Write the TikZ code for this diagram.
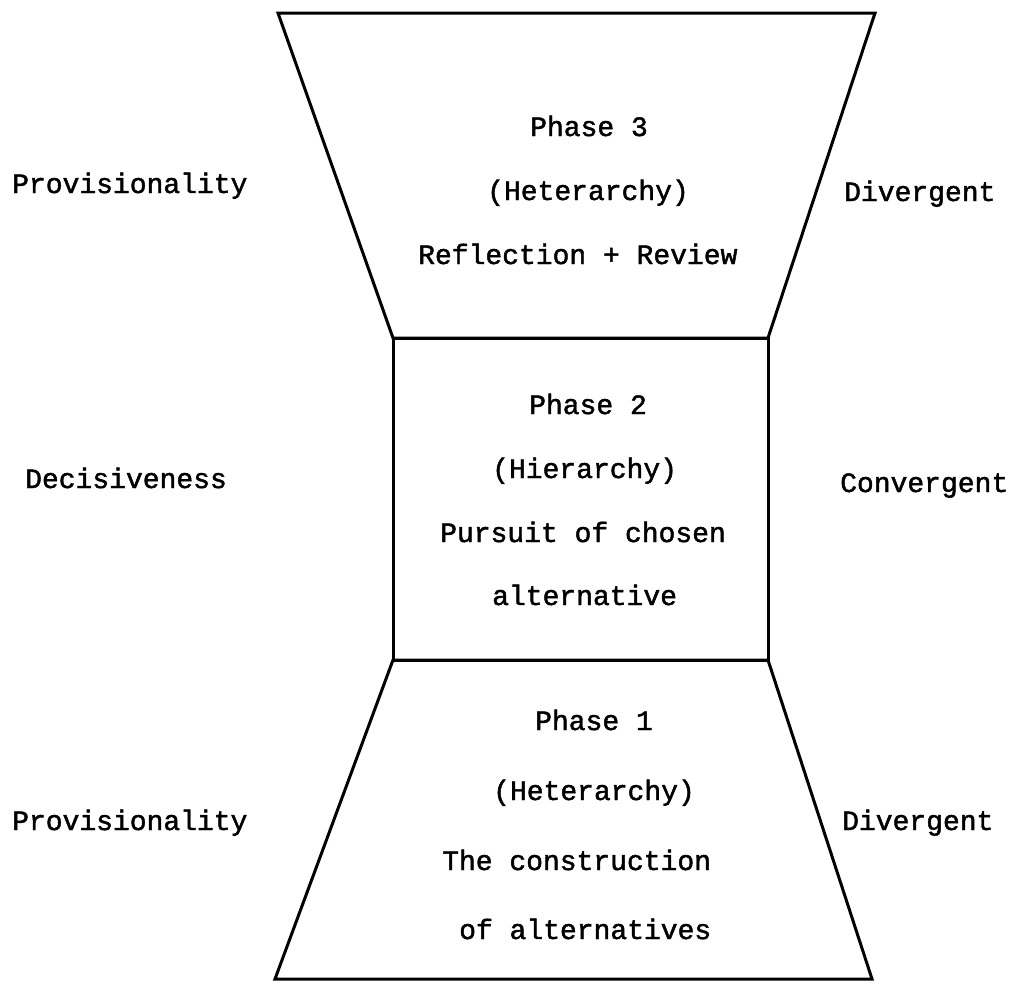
\documentclass[tikz,border=0pt]{standalone}
\usepackage{fontspec}
\setmonofont[FakeBold=1.6]{Liberation Mono}
\begin{document}
\begin{tikzpicture}[x=1pt,y=-1pt,
  edge/.style={line width=3pt, line join=miter},
  lbl/.style={font=\ttfamily\fontsize{28}{30}\selectfont, anchor=base west, inner sep=0pt}]
\useasboundingbox (0,0) rectangle (1017,983);

% corners of the three stacked phases
\coordinate (tl) at (278,13);
\coordinate (tr) at (875,13);
\coordinate (ml) at (393,338);
\coordinate (mr) at (768,338);
\coordinate (nl) at (393,660);
\coordinate (nr) at (768,660);
\coordinate (bl) at (275,979);
\coordinate (br) at (872,979);

% phase 3: widening funnel on top
\draw[edge] (tl) -- (tr) -- (mr) -- (ml) -- cycle;
% phase 2: box in the middle
\draw[edge] (ml) -- (mr) -- (nr) -- (nl) -- cycle;
% phase 1: widening funnel below
\draw[edge] (nl) -- (nr) -- (br) -- (bl) -- cycle;

% phase 3 texts
\node[lbl] (p3a) at (530,136) {Phase  3};
\node[lbl] (p3b) at (487,200) {(Heterarchy)};
\node[lbl] (p3c) at (418,264) {Reflection + Review};
\node[lbl] (s3l) at (12,193) {Provisionality};
\node[lbl] (s3r) at (844,201) {Divergent};

% phase 2 texts
\node[lbl] (p2a) at (529,414) {Phase  2};
\node[lbl] (p2b) at (492,478) {(Hierarchy)};
\node[lbl] (p2c) at (440,542) {Pursuit of chosen};
\node[lbl] (p2d) at (492,605) {alternative};
\node[lbl] (s2l) at (25,488) {Decisiveness};
\node[lbl] (s2r) at (840,492) {Convergent};

% phase 1 texts
\node[lbl] (p1a) at (535,730) {Phase  1};
\node[lbl] (p1b) at (493,800) {(Heterarchy)};
\node[lbl] (p1c) at (442,870) {The construction};
\node[lbl] (p1d) at (459,939) {of alternatives};
\node[lbl] (s1l) at (12,830) {Provisionality};
\node[lbl] (s1r) at (842,830) {Divergent};
\end{tikzpicture}
\end{document}
